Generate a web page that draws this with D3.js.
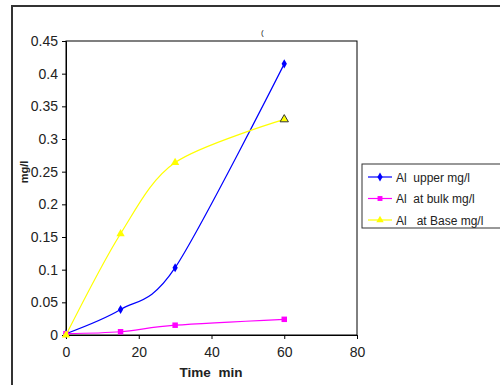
<!DOCTYPE html>
<html>
<head>
<meta charset="utf-8">
<script src="https://cdn.jsdelivr.net/npm/d3@7"></script>
<style>
  body { margin: 0; background: #fff; }
  text { font-family: "Liberation Sans", Arial, sans-serif; fill: #222; white-space: pre; }
</style>
</head>
<body>
<svg id="chart" width="500" height="385"></svg>
<script>
// data
const times = [0, 15, 30, 60];
const upper = [0.002, 0.039, 0.103, 0.415];
const bulk = [0.002, 0.005, 0.015, 0.024];
const base = [0, 0.155, 0.264, 0.330];
const xTicks = [0, 20, 40, 60, 80];
const yTicks = [0, 0.05, 0.1, 0.15, 0.2, 0.25, 0.3, 0.35, 0.4, 0.45];
const seriesNames = ["Al  upper mg/l", "Al  at bulk mg/l", "Al   at Base mg/l"];

const svg = d3.select("#chart");

// outer frame
svg.append("rect")
  .attr("x", 12).attr("y", 6)
  .attr("width", 500).attr("height", 400)
  .attr("fill", "none").attr("stroke", "#333").attr("stroke-width", 2);

// scales
let x = d3.scaleLinear().domain([0, 80]).range([66, 357]);
let y = d3.scaleLinear().domain([0, 0.45]).range([335, 41]);

// plot area box
svg.append("rect")
  .attr("x", 66).attr("y", 41)
  .attr("width", 291).attr("height", 294)
  .attr("fill", "none").attr("stroke", "#000").attr("stroke-width", 1);

// axes
let xAxis = svg.append("g")
  .attr("transform", "translate(0,335)")
  .call(d3.axisBottom(x).tickValues(xTicks).tickSize(4).tickPadding(8).tickFormat(d3.format("d")));
let yAxis = svg.append("g")
  .attr("transform", "translate(66,0)")
  .call(d3.axisLeft(y).tickValues(yTicks).tickSize(4).tickPadding(4).tickFormat(d => d === 0 ? "0" : String(+d.toFixed(2))));
[xAxis, yAxis].forEach(g => {
  g.select(".domain").attr("stroke", "#000");
  g.selectAll(".tick line").attr("stroke", "#000");
  g.selectAll(".tick text")
    .style("font-family", "'Liberation Sans', Arial, sans-serif")
    .style("font-size", "14px").attr("fill", "#222");
});

// lines (smoothed like the spreadsheet curve)
const series = [
  {name: seriesNames[0], values: upper, color: "#0000ff", shape: d3.symbolDiamond},
  {name: seriesNames[1], values: bulk, color: "#ff00ff", shape: d3.symbolSquare},
  {name: seriesNames[2], values: base, color: "#ffff00", shape: d3.symbolTriangle}
];

let line = d3.line()
  .x(d => x(d[0]))
  .y(d => y(d[1]))
  .curve(d3.curveCardinal.tension(0.1));

series.forEach(s => {
  let pts = times.map((t, i) => [t, s.values[i]]);
  svg.append("path")
    .datum(pts)
    .attr("d", line)
    .attr("fill", "none")
    .attr("stroke", s.color)
    .attr("stroke-width", 1.2);
  svg.selectAll(null)
    .data(pts)
    .join("path")
      .attr("transform", d => `translate(${x(d[0])},${y(d[1])})`)
      .attr("d", d3.symbol().type(s.shape).size(s.shape === d3.symbolDiamond ? 24 : 30))
      .attr("fill", s.color)
      .attr("stroke", (d, i) => (s.shape === d3.symbolTriangle && i === pts.length - 1) ? "#333" : "none")
      .attr("stroke-width", 1);
});

// small title mark
svg.append("text")
  .attr("x", 261).attr("y", 35)
  .style("font-size", "8px").attr("fill", "#888")
  .text("(");

// axis labels
svg.append("text")
  .attr("x", 211).attr("y", 377)
  .style("text-anchor", "middle")
  .style("font-size", "13.5px").style("font-weight", "bold")
  .text("Time  min");

svg.append("text")
  .attr("transform", "rotate(-90)")
  .attr("x", -172).attr("y", 28)
  .style("text-anchor", "middle")
  .style("font-size", "11px").style("font-weight", "bold")
  .text("mg/l");

// legend
let legend = svg.append("g");
legend.append("rect")
  .attr("x", 362).attr("y", 164)
  .attr("width", 150).attr("height", 64)
  .attr("fill", "#fff").attr("stroke", "#333").attr("stroke-width", 1);
series.forEach((s, i) => {
  let ly = 177 + i * 21.5;
  legend.append("line")
    .attr("x1", 368).attr("x2", 392)
    .attr("y1", ly).attr("y2", ly)
    .attr("stroke", s.color).attr("stroke-width", 1.2);
  legend.append("path")
    .attr("transform", `translate(380,${ly})`)
    .attr("d", d3.symbol().type(s.shape).size(24))
    .attr("fill", s.color);
  legend.append("text")
    .attr("x", 396).attr("y", ly + 4.5)
    .style("font-size", "12px")
    .text(s.name);
});
</script>
</body>
</html>
